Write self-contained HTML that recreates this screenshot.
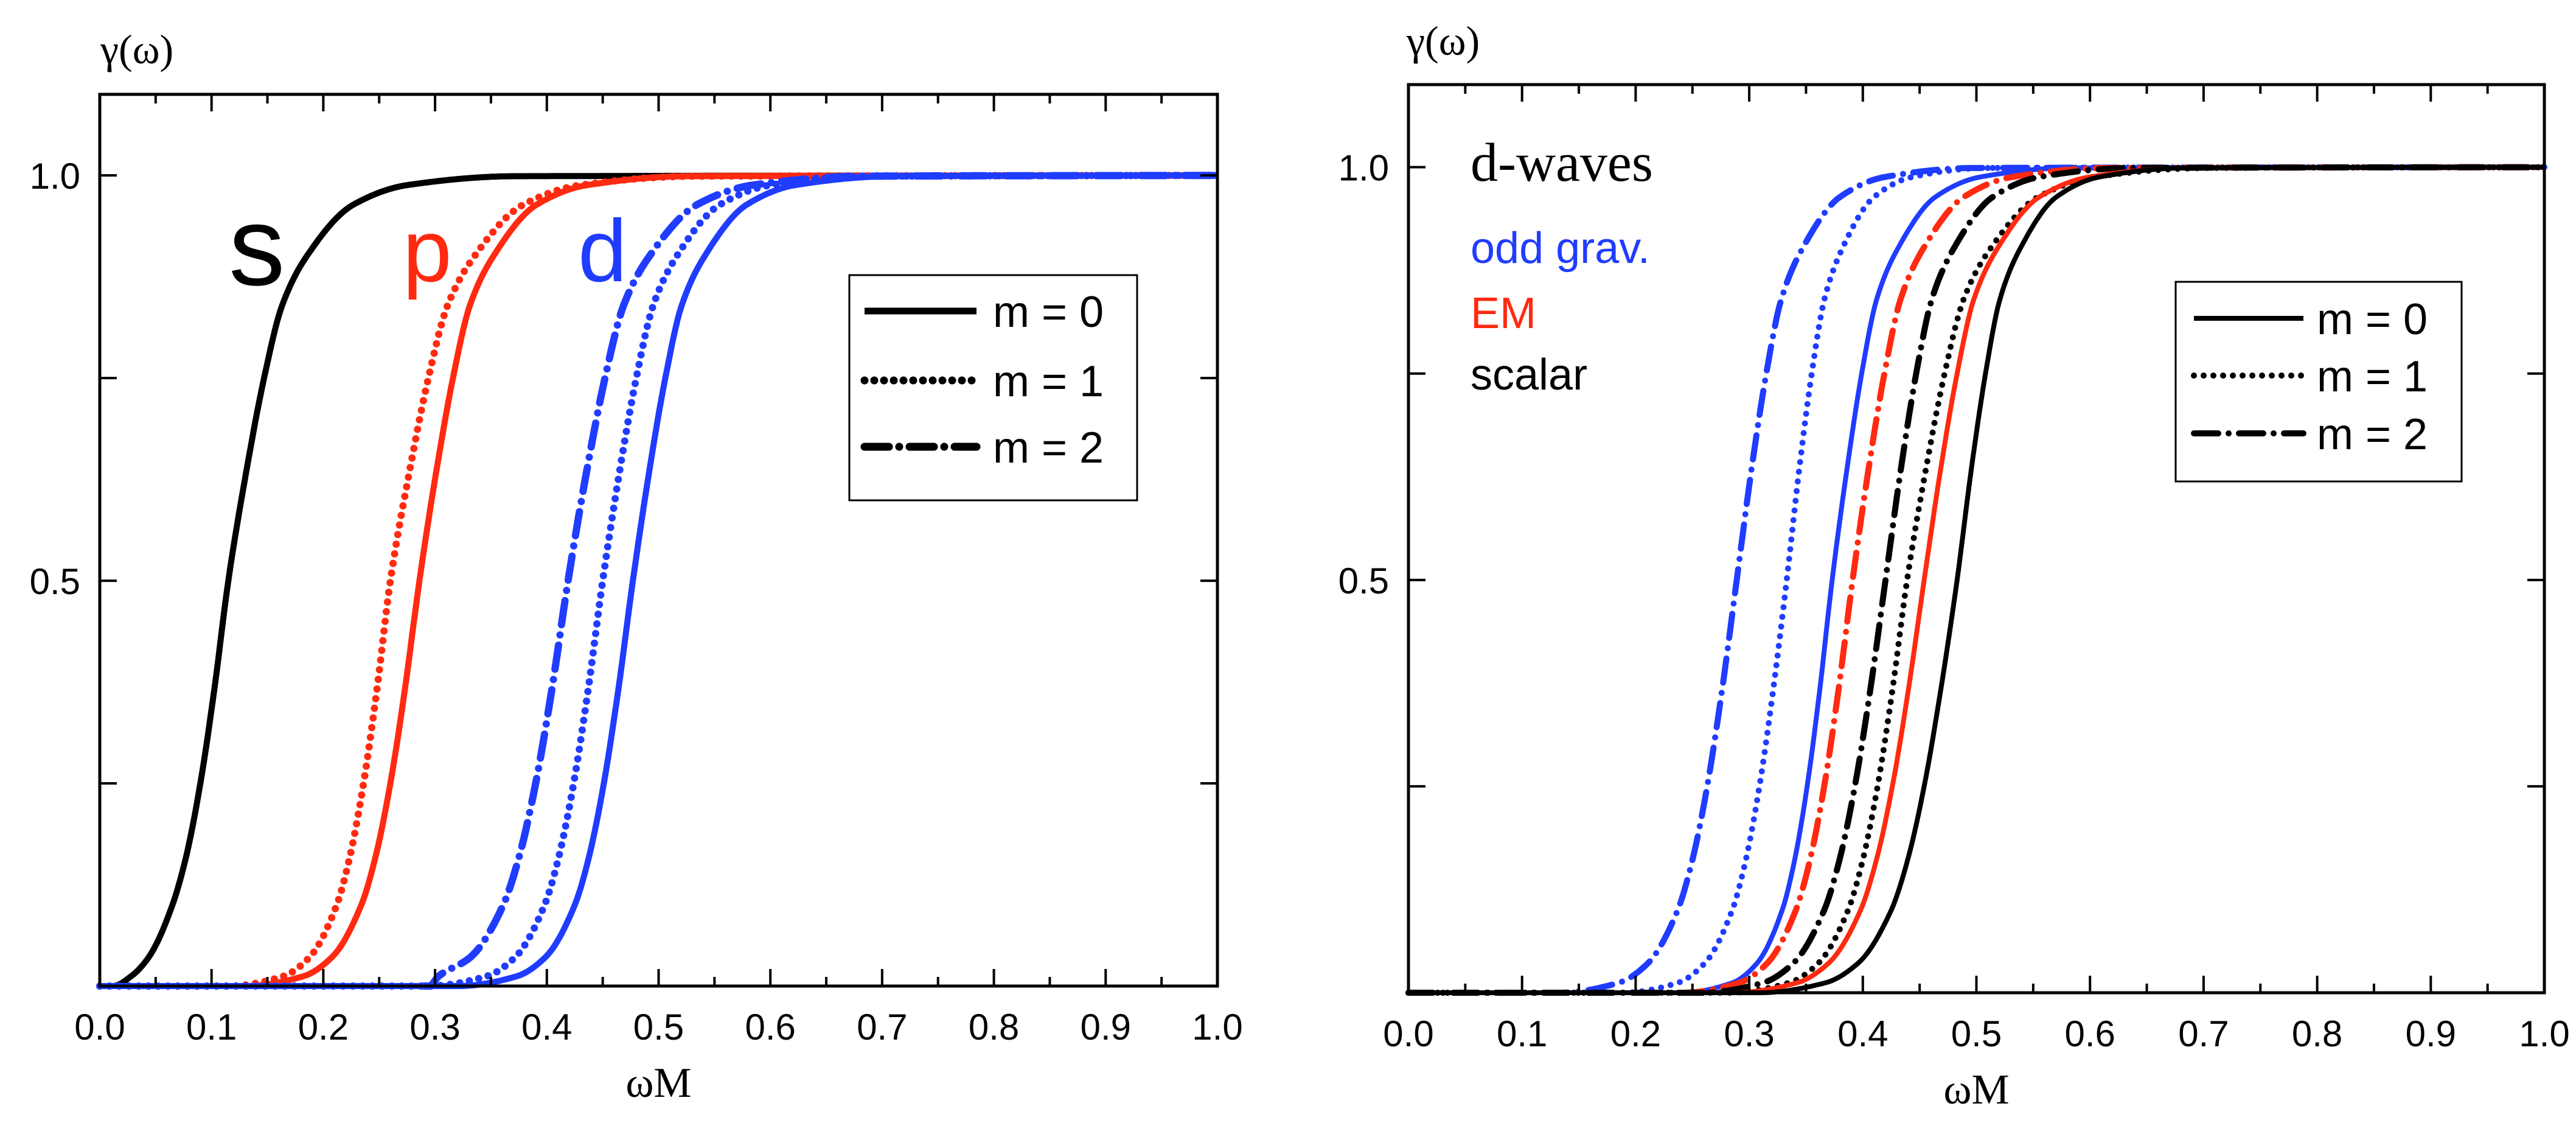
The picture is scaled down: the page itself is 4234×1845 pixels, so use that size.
<!DOCTYPE html>
<html><head><meta charset="utf-8"><style>
html,body{margin:0;padding:0;background:#fff;}
svg{display:block;}
text{font-family:"Liberation Sans",sans-serif;}
.serif{font-family:"Liberation Serif",serif;}
</style></head><body>
<svg id="fig" width="4234" height="1845" viewBox="0 0 4234 1845" xmlns="http://www.w3.org/2000/svg">
<rect width="4234" height="1845" fill="#fff"/>
</svg>
<script>
// shared gamma levels for all curves
const gammaLevels = [0, 0, 0.012, 0.036, 0.1, 0.161, 0.25, 0.366, 0.5, 0.634, 0.75, 0.839, 0.9, 0.964, 0.988, 0.999, 1];
const xTicks = [0,0.1,0.2,0.3,0.4,0.5,0.6,0.7,0.8,0.9,1.0];
const xTickLabels = ["0.0","0.1","0.2","0.3","0.4","0.5","0.6","0.7","0.8","0.9","1.0"];
const yTicks = [0.25,0.5,0.75,1.0];
const yTickLabels = ["","0.5","","1.0"];
// left panel omega values (one per gamma level)
const sM0 = [0,0.012,0.028,0.044,0.065,0.0775,0.09,0.1025,0.115,0.131,0.147,0.163,0.185,0.227,0.275,0.371,1];
const pM0 = [0,0.13,0.182,0.208,0.234,0.247,0.26,0.273,0.286,0.301,0.316,0.331,0.352,0.391,0.436,0.526,1];
const pM1 = [0,0.116,0.164,0.188,0.212,0.224,0.236,0.248,0.26,0.277,0.294,0.311,0.335,0.379,0.43,0.532,1];
const dM0 = [0,0.321,0.373,0.399,0.425,0.438,0.451,0.464,0.477,0.4915,0.506,0.5205,0.541,0.579,0.622,0.709,1];
const dM1 = [0,0.294,0.346,0.372,0.398,0.411,0.424,0.437,0.45,0.465,0.48,0.495,0.516,0.555,0.6,0.69,1];
const dM2 = [0.29,0.295,0.303,0.332,0.361,0.3755,0.39,0.4045,0.419,0.4355,0.452,0.4685,0.4916,0.5345,0.584,0.683,1];
// right panel omega values
const gravM2 = [0,0.133,0.185,0.211,0.237,0.25,0.263,0.276,0.289,0.302,0.315,0.328,0.3462,0.38,0.419,0.497,1];
const gravM1 = [0,0.189,0.237,0.261,0.285,0.297,0.309,0.321,0.333,0.344,0.355,0.366,0.3814,0.41,0.443,0.509,1];
const gravM0 = [0,0.241,0.285,0.307,0.329,0.34,0.351,0.362,0.373,0.386,0.399,0.412,0.4302,0.464,0.503,0.581,1];
const emM2 = [0,0.241,0.291,0.316,0.341,0.3535,0.366,0.3785,0.391,0.405,0.419,0.433,0.4526,0.489,0.531,0.615,1];
const scM2 = [0,0.258,0.312,0.339,0.366,0.3795,0.393,0.4065,0.42,0.4335,0.447,0.4605,0.4794,0.5145,0.555,0.636,1];
const scM1 = [0,0.283,0.335,0.361,0.387,0.4,0.413,0.426,0.439,0.4555,0.472,0.4885,0.5116,0.5545,0.604,0.703,1];
const emM0 = [0,0.286,0.342,0.37,0.398,0.412,0.426,0.44,0.454,0.4685,0.483,0.4975,0.5178,0.5555,0.599,0.686,1];
const scM0 = [0,0.309,0.367,0.396,0.425,0.4395,0.454,0.4685,0.483,0.4955,0.508,0.5205,0.538,0.5705,0.608,0.683,1];

const NS="http://www.w3.org/2000/svg";
const svg=document.getElementById('fig');
function el(tag,attrs,parent,txt){const e=document.createElementNS(NS,tag);for(const k in attrs)e.setAttribute(k,attrs[k]);if(txt!==undefined)e.textContent=txt;(parent||svg).appendChild(e);return e;}
const BLUE="#1f3cff",RED="#ff2a10",BLACK="#000";
const STY={solid:{da:null,cap:"butt"},dot:{da:"0 16",cap:"round"},dashdot:{da:"40 17 0 17",cap:"round"}};

// monotone cubic (Fritsch-Carlson) sampling
function monotone(xs,ys){
  const X=[],Y=[];
  for(let i=0;i<xs.length;i++){ if(X.length&&xs[i]<=X[X.length-1])continue; X.push(xs[i]);Y.push(ys[i]); }
  const n=X.length; if(n<2)return {X,Y};
  const d=[],m=new Array(n);
  for(let i=0;i<n-1;i++)d.push((Y[i+1]-Y[i])/(X[i+1]-X[i]));
  m[0]=d[0];m[n-1]=d[n-2];
  for(let i=1;i<n-1;i++){ if(d[i-1]*d[i]<=0)m[i]=0; else { const h0=X[i]-X[i-1],h1=X[i+1]-X[i]; const w1=2*h1+h0,w2=h1+2*h0; m[i]=(w1+w2)/(w1/d[i-1]+w2/d[i]); } }
  const OX=[],OY=[];
  for(let i=0;i<n-1;i++){
    const h=X[i+1]-X[i],N=Math.max(2,Math.ceil(h/0.002));
    for(let k=0;k<N;k++){
      const t=k/N,t2=t*t,t3=t2*t;
      const v=(2*t3-3*t2+1)*Y[i]+(t3-2*t2+t)*h*m[i]+(-2*t3+3*t2)*Y[i+1]+(t3-t2)*h*m[i+1];
      OX.push(X[i]+t*h);OY.push(v);
    }
  }
  OX.push(X[n-1]);OY.push(Y[n-1]);
  return {X:OX,Y:OY};
}

function panel(P,name){
  const g=el('g',{},svg);
  
  
  const sx=v=>P.x0+(P.x1-P.x0)*v;
  const sy=v=>P.yb-(P.yb-P.yt)*v/1.1;
  const cg=el('g',{},g);
  
  
  P.series.forEach(s=>{
    const c=monotone(s.xs,gammaLevels);
    let d="";
    for(let i=0;i<c.X.length;i++) d+=(i?"L":"M")+sx(c.X[i]).toFixed(1)+" "+sy(c.Y[i]).toFixed(1);
    const st=STY[s.style];
    const p=el('path',{d:d,fill:"none",stroke:s.color,"stroke-width":s.style==="solid"?P.lw:P.lw+2,"stroke-linecap":st.cap,"stroke-linejoin":"round"},cg);
    if(st.da)p.setAttribute('stroke-dasharray',st.da);
    
    
  });
  const fr=el('rect',{x:P.x0,y:P.yt,width:P.x1-P.x0,height:P.yb-P.yt,fill:"none",stroke:"#000","stroke-width":5},g);
  
  
  const xg=el('g',{},g);
  
  
  for(let i=0;i<=20;i++){
    const v=i*0.05,L=(i%2==0)?28:15,X=sx(v);
    el('line',{x1:X,x2:X,y1:P.yb,y2:P.yb-L,stroke:"#000","stroke-width":4},xg);
    el('line',{x1:X,x2:X,y1:P.yt,y2:P.yt+L,stroke:"#000","stroke-width":4},xg);
  }
  xTicks.forEach((v,i)=>{
    const t=el('text',{x:sx(v),y:P.yb+88,"font-size":60,"text-anchor":"middle"},xg,xTickLabels[i]);
    
    
  });
  const xt=el('text',{x:(P.x0+P.x1)/2,y:P.yb+182,"font-size":70,"text-anchor":"middle",class:"serif"},g,"ωM");
  
  
  const yg=el('g',{},g);
  
  
  yTicks.forEach((v,i)=>{
    const Y=sy(v);
    el('line',{x1:P.x0,x2:P.x0+28,y1:Y,y2:Y,stroke:"#000","stroke-width":4},yg);
    el('line',{x1:P.x1,x2:P.x1-28,y1:Y,y2:Y,stroke:"#000","stroke-width":4},yg);
    if(yTickLabels[i]){
      const t=el('text',{x:P.x0-32,y:Y+22,"font-size":60,"text-anchor":"end"},yg,yTickLabels[i]);
      
      
    }
  });
  const yt=el('text',{x:P.ytx,y:P.yty,"font-size":68,class:"serif"},g,"γ(ω)");
  
  
  const L=P.leg;
  const lg=el('g',{},g);
  
  
  el('rect',{x:L.x,y:L.y,width:L.w,height:L.h,fill:"#fff",stroke:"#000","stroke-width":3},lg);
  ["solid","dot","dashdot"].forEach((s,i)=>{
    const Y=L.rows[i],st=STY[s];
    const ln=el('line',{x1:L.lx1,x2:L.lx2,y1:Y,y2:Y,stroke:"#000","stroke-width":s==="solid"?L.lw:L.lw+2,"stroke-linecap":st.cap},lg);
    if(st.da)ln.setAttribute('stroke-dasharray',st.da);
    
    
    const t=el('text',{x:L.tx,y:Y+26,"font-size":72},lg,"m = "+i);
    
    
  });
  return {sx,sy,g};
}

const left=panel({x0:164,x1:2001,yt:155,yb:1620,lw:10,ytx:165,yty:104,
  leg:{x:1396,y:452,w:473,h:370,rows:[511,625,734],lx1:1421,lx2:1605,tx:1632,lw:11},
  series:[
   {name:'s-m0',xs:sM0,color:BLACK,style:'solid'},
   {name:'p-m1',xs:pM1,color:RED,style:'dot'},
   {name:'p-m0',xs:pM0,color:RED,style:'solid'},
   {name:'d-m2',xs:dM2,color:BLUE,style:'dashdot'},
   {name:'d-m1',xs:dM1,color:BLUE,style:'dot'},
   {name:'d-m0',xs:dM0,color:BLUE,style:'solid'}]},'left-panel');
[['s',376,468,185,BLACK],['p',662,462,145,RED],['d',950,462,145,BLUE]].forEach(a=>{
  const t=el('text',{x:a[1],y:a[2],"font-size":a[3],fill:a[4]},left.g,a[0]);
  
  
});

const right=panel({x0:2315,x1:4182,yt:139,yb:1631,lw:8,ytx:2312,yty:90,
  leg:{x:3576,y:463,w:470,h:328,rows:[523,617,712],lx1:3606,lx2:3786,tx:3808,lw:8},
  series:[
   {name:'grav-m2',xs:gravM2,color:BLUE,style:'dashdot'},
   {name:'grav-m1',xs:gravM1,color:BLUE,style:'dot'},
   {name:'grav-m0',xs:gravM0,color:BLUE,style:'solid'},
   {name:'em-m2',xs:emM2,color:RED,style:'dashdot'},
   {name:'scalar-m2',xs:scM2,color:BLACK,style:'dashdot'},
   {name:'scalar-m1',xs:scM1,color:BLACK,style:'dot'},
   {name:'em-m0',xs:emM0,color:RED,style:'solid'},
   {name:'scalar-m0',xs:scM0,color:BLACK,style:'solid'}]},'right-panel');
[['d-waves',2417,297,90,BLACK,'serif','title-d-waves'],['odd grav.',2417,432,72,BLUE,'','label-odd-grav'],['EM',2417,539,72,RED,'','label-em'],['scalar',2417,640,72,BLACK,'','label-scalar']].forEach(a=>{
  const t=el('text',{x:a[1],y:a[2],"font-size":a[3],fill:a[4]},right.g,a[0]);
  if(a[5])t.setAttribute('class',a[5]);
  
  
});
</script>
</body></html>
